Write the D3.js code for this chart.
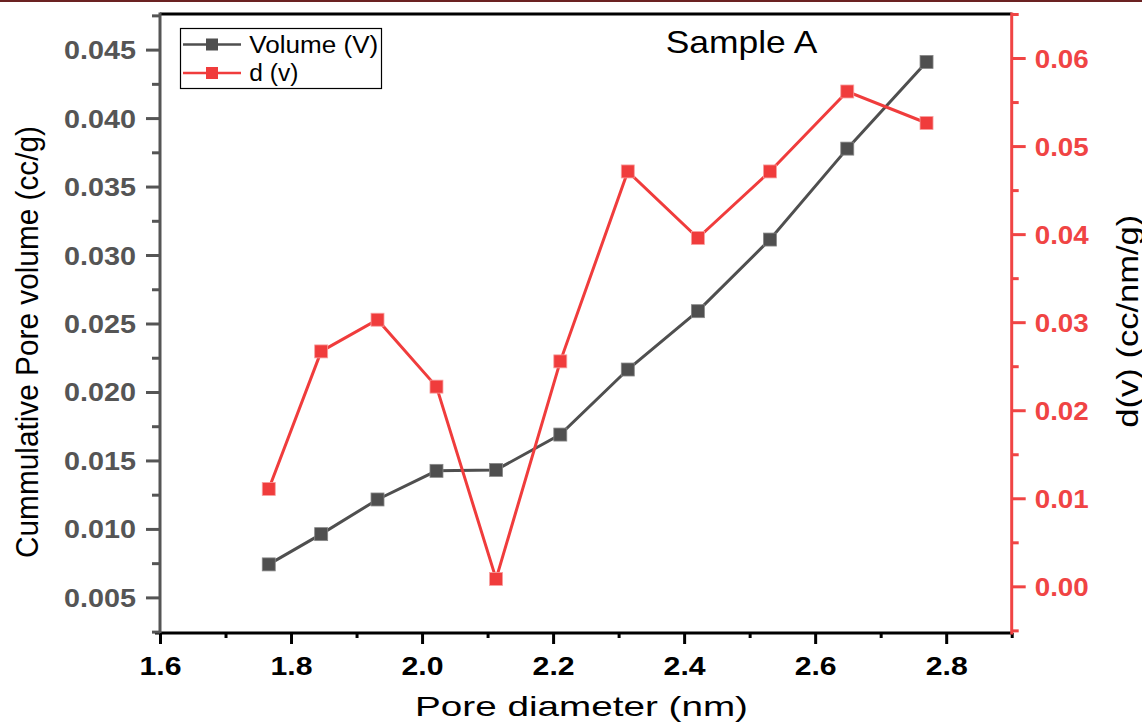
<!DOCTYPE html>
<html>
<head>
<meta charset="utf-8">
<script src="https://cdn.jsdelivr.net/npm/d3@7"></script>
<style>
  html, body { margin: 0; padding: 0; background: #fff; }
  svg { display: block; font-family: "Liberation Sans", Arial, sans-serif; }
</style>
</head>
<body>
<svg id="chart" width="1142" height="723"></svg>
<script>
// ---- data ----
const poreDiameter = [1.766, 1.846, 1.932, 2.022, 2.113, 2.211, 2.314, 2.421, 2.531, 2.649, 2.770];
const volume = [0.00741, 0.00962, 0.01215, 0.01424, 0.01431, 0.01689, 0.02164, 0.0259, 0.03113, 0.03777, 0.0441];
const dv = [0.01106, 0.02668, 0.03028, 0.02268, 0.00084, 0.02555, 0.04712, 0.03956, 0.04712, 0.0562, 0.05262];
const xTicks = [1.6, 1.8, 2.0, 2.2, 2.4, 2.6, 2.8];
const xMinor = [1.7, 1.9, 2.1, 2.3, 2.5, 2.7, 2.9];
const yLeftTicks = [0.005, 0.010, 0.015, 0.020, 0.025, 0.030, 0.035, 0.040, 0.045];
const yLeftMinor = [0.0025, 0.0075, 0.0125, 0.0175, 0.0225, 0.0275, 0.0325, 0.0375, 0.0425, 0.0475];
const yRightTicks = [0.00, 0.01, 0.02, 0.03, 0.04, 0.05, 0.06];
const yRightMinor = [-0.005, 0.005, 0.015, 0.025, 0.035, 0.045, 0.055, 0.065];
const seriesNames = ["Volume (V)", "d (v)"];
const title = "Sample A";
const xLabel = "Pore diameter (nm)";
const yLeftLabel = "Cummulative Pore volume (cc/g)";
const yRightLabel = "d(v)  (cc/nm/g)";

// ---- layout ----
const L = 160, R = 1011.7, T = 14, B = 633;
const GRAY = "#4f4f4f", RED = "#f03c3c", AXGRAY = "#555555", AXRED = "#f04444";

const svg = d3.select("#chart");
svg.append("rect").attr("x", 0).attr("y", 0).attr("width", 1142).attr("height", 2).attr("fill", "#6b2222");

const x = d3.scaleLinear().domain([1.6, 2.9]).range([L, R]);
const yL = d3.scaleLinear().domain([0.0024, 0.0476]).range([B, T]);
const yR = d3.scaleLinear().domain([-0.0053, 0.065]).range([B, T]);

function styleAxis(g, color, width) {
  g.select(".domain").remove();
  g.selectAll("line").attr("stroke", color).attr("stroke-width", width);
}

// top frame line
svg.append("line").attr("x1", L).attr("x2", R).attr("y1", T).attr("y2", T)
  .attr("stroke", "#000").attr("stroke-width", 3);

// bottom axis
const gxMin = svg.append("g").attr("transform", `translate(0,${B})`)
  .call(d3.axisBottom(x).tickValues(xMinor).tickSize(5).tickFormat(""));
styleAxis(gxMin, "#000", 3);
const gx = svg.append("g").attr("transform", `translate(0,${B})`)
  .call(d3.axisBottom(x).tickValues(xTicks).tickSize(11).tickFormat(d3.format(".1f")));
styleAxis(gx, "#000", 3);
gx.selectAll("text").attr("y", 24).attr("dy", "0.71em")
  .attr("fill", "#000").attr("font-size", 25.5).attr("font-weight", "bold")
  .attr("font-family", '"Liberation Sans", Arial, sans-serif')
  .attr("textLength", 42).attr("lengthAdjust", "spacingAndGlyphs");
svg.append("line").attr("x1", L - 5).attr("x2", R + 1.5).attr("y1", B).attr("y2", B)
  .attr("stroke", "#000").attr("stroke-width", 3);

// left axis
const gyMin = svg.append("g").attr("transform", `translate(${L},0)`)
  .call(d3.axisLeft(yL).tickValues(yLeftMinor).tickSize(8).tickFormat(""));
styleAxis(gyMin, AXGRAY, 3);
const gy = svg.append("g").attr("transform", `translate(${L},0)`)
  .call(d3.axisLeft(yL).tickValues(yLeftTicks).tickSize(14).tickFormat(d3.format(".3f")));
styleAxis(gy, AXGRAY, 3);
gy.selectAll("text").attr("x", -24).attr("dy", "0.36em")
  .attr("fill", AXGRAY).attr("font-size", 25).attr("font-weight", "bold")
  .attr("font-family", '"Liberation Sans", Arial, sans-serif')
  .attr("textLength", 72).attr("lengthAdjust", "spacingAndGlyphs");
svg.append("line").attr("x1", L).attr("x2", L).attr("y1", T - 1.5).attr("y2", B)
  .attr("stroke", AXGRAY).attr("stroke-width", 3);

// right axis
const grMin = svg.append("g").attr("transform", `translate(${R},0)`)
  .call(d3.axisRight(yR).tickValues(yRightMinor).tickSize(7).tickFormat(""));
styleAxis(grMin, AXRED, 3);
const gr = svg.append("g").attr("transform", `translate(${R},0)`)
  .call(d3.axisRight(yR).tickValues(yRightTicks).tickSize(14).tickFormat(d3.format(".2f")));
styleAxis(gr, AXRED, 3);
gr.selectAll("text").attr("x", 23).attr("dy", "0.36em")
  .attr("fill", AXRED).attr("font-size", 25).attr("font-weight", "bold")
  .attr("font-family", '"Liberation Sans", Arial, sans-serif')
  .attr("textLength", 54).attr("lengthAdjust", "spacingAndGlyphs");
svg.append("line").attr("x1", R).attr("x2", R).attr("y1", T - 1.5).attr("y2", B + 1.5)
  .attr("stroke", AXRED).attr("stroke-width", 3);

// series
const pts = poreDiameter.map((d, i) => ({ x: d, v: volume[i], d: dv[i] }));
const lineV = d3.line().x(p => x(p.x)).y(p => yL(p.v));
const lineD = d3.line().x(p => x(p.x)).y(p => yR(p.d));
const MS = 13;

svg.append("path").datum(pts).attr("d", lineV).attr("fill", "none")
  .attr("stroke", GRAY).attr("stroke-width", 3);
svg.append("g").selectAll("rect").data(pts).join("rect")
  .attr("x", p => x(p.x) - MS / 2).attr("y", p => yL(p.v) - MS / 2)
  .attr("width", MS).attr("height", MS).attr("fill", GRAY)
  .attr("stroke", "#888").attr("stroke-width", 0.8);

svg.append("path").datum(pts).attr("d", lineD).attr("fill", "none")
  .attr("stroke", RED).attr("stroke-width", 3);
svg.append("g").selectAll("rect").data(pts).join("rect")
  .attr("x", p => x(p.x) - MS / 2).attr("y", p => yR(p.d) - MS / 2)
  .attr("width", MS).attr("height", MS).attr("fill", RED)
  .attr("stroke", "#f8a0a0").attr("stroke-width", 0.8);

// legend
const lg = svg.append("g");
lg.append("rect").attr("x", 180.5).attr("y", 28.5).attr("width", 201).attr("height", 60)
  .attr("fill", "#fff").attr("stroke", "#000").attr("stroke-width", 1.2);
const legendItems = [
  { name: seriesNames[0], color: GRAY, y: 44.5, tl: 129 },
  { name: seriesNames[1], color: RED, y: 73, tl: 49 }
];
legendItems.forEach(it => {
  lg.append("line").attr("x1", 183).attr("x2", 241).attr("y1", it.y).attr("y2", it.y)
    .attr("stroke", it.color).attr("stroke-width", 2.5);
  lg.append("rect").attr("x", 212 - 6).attr("y", it.y - 6).attr("width", 12).attr("height", 12)
    .attr("fill", it.color);
  lg.append("text").attr("x", 249.3).attr("y", it.y + 8).attr("font-size", 23)
    .attr("fill", "#000").attr("textLength", it.tl).attr("lengthAdjust", "spacingAndGlyphs")
    .text(it.name);
});

// title
svg.append("text").attr("x", 665.7).attr("y", 53.3).attr("font-size", 30.5)
  .attr("fill", "#000").attr("textLength", 151.6).attr("lengthAdjust", "spacingAndGlyphs")
  .text(title);

// axis titles
svg.append("text").attr("x", 415).attr("y", 716).attr("font-size", 28.5)
  .attr("fill", "#000").attr("textLength", 333).attr("lengthAdjust", "spacingAndGlyphs")
  .text(xLabel);

svg.append("text").attr("transform", "translate(38,558) rotate(-90)")
  .attr("x", 0).attr("y", 0).attr("font-size", 32)
  .attr("fill", "#000").attr("textLength", 432).attr("lengthAdjust", "spacingAndGlyphs")
  .text(yLeftLabel);

svg.append("text").attr("transform", "translate(1137.5,427.7) rotate(-90)")
  .attr("x", 0).attr("y", 0).attr("font-size", 29)
  .attr("fill", "#000").attr("textLength", 213).attr("lengthAdjust", "spacingAndGlyphs")
  .text(yRightLabel);
</script>
</body>
</html>
